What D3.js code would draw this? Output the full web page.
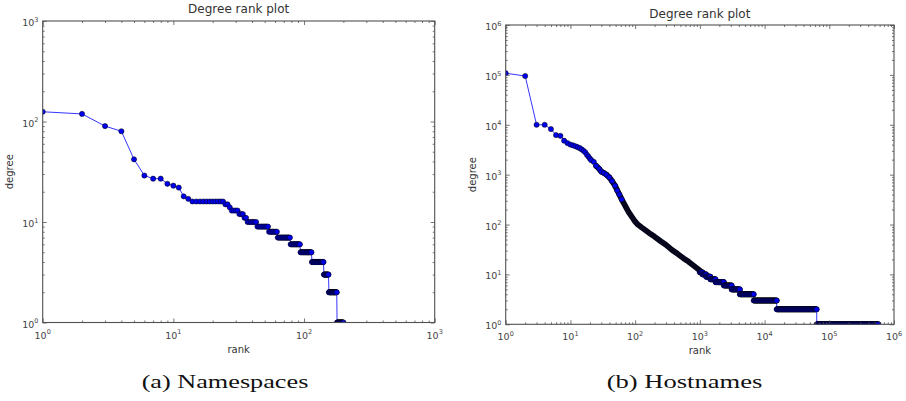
<!DOCTYPE html>
<html><head><meta charset="utf-8">
<script src="https://cdn.jsdelivr.net/npm/d3@7"></script>
<style>body{margin:0;background:#fff}svg{display:block}</style>
</head><body>
<svg id="c" width="906" height="401"></svg>
<script>
// ---------- DATA ----------
// (a) Namespaces: rank-ordered degree sequence, run-length encoded
// (degree level, last rank holding that degree)
const nsDegrees   = [125,119,90,80,42,29,27,24,23,22,18,17,16,15,14,13,12,11,10, 9, 8, 7, 6,  5,  4,  3,  2,  1];
const nsLastRanks = [  1,  2, 3, 4, 5, 6, 8, 9,10,11,12,13,24,26,27,31,34,36,43,53,62,78,93,114,141,154,178,200];

// (b) Hostnames: points read along the steep part of the curve (rank, degree)
const hostCurveRanks   = [1,2,3,4,5,6,7,8,9,10,11,12,13,14,15,16,17,18,19,20,21,23,25,28,30,33,36,40,44,49,53,57,62,70,79,90,100,110,125,150,175,200,250,300,370,450,560,670,800,1000];
const hostCurveDegrees = [108000,95000,10000,10000,8200,6200,6000,4800,4300,4000,3850,3700,3550,3400,3200,3000,2800,2500,2300,2100,1950,1800,1500,1300,1150,1080,1000,880,740,600,480,400,320,240,180,140,115,100,88,74,64,57,46,39,31,26,21,18,15,12];
// (b) Hostnames: low-degree plateaus (degree level, last rank holding that degree)
const hostStepDegrees   = [  11,  10,   9,   8,   7,   6,   5,   4,    3,    2,     1];
const hostStepLastRanks = [1100,1250,1450,1750,2350,3100,4150,6800,15400,64000,574000];

const nsTickExponents   = [0,1,2,3];
const hostTickExponents = [0,1,2,3,4,5,6];
const plotTitle = "Degree rank plot";
const xAxisLabel = "rank";
const yAxisLabel = "degree";
const captions = ["(a) Namespaces", "(b) Hostnames"];

// ---------- DRAWING ----------
const svg = d3.select("#c");
svg.append("rect").attr("width",906).attr("height",401).attr("fill","#fff");

const LINE = "#3535ff", FACE = "#0000ee", EDGE = "#000", R = 2.6;
const FRAME = "#505050", TXT = "#444";

function minorTicks(maxExp){
  const m=[];
  for(let e=0;e<maxExp;e++) for(let k=2;k<=9;k++) m.push(k*Math.pow(10,e));
  return m;
}

function panel(cfg, id){
  const {L,Rt,T,B,exps,xLabY,yLabX,titleY} = cfg;
  const maxV = Math.pow(10, exps[exps.length-1]);
  const x = d3.scaleLog().domain([1,maxV]).range([L,Rt]);
  const y = d3.scaleLog().domain([1,maxV]).range([B,T]);
  const g = svg.append("g");

  g.append("clipPath").attr("id","clip"+id).append("rect")
    .attr("x",L).attr("y",T).attr("width",Rt-L).attr("height",B-T);
  const data = g.append("g").attr("clip-path",`url(#clip${id})`);

  const majors = exps.map(e=>Math.pow(10,e));
  const minors = minorTicks(exps[exps.length-1]);
  const axes = g.append("g");
  const mk = (gen, tr, vals, size) => {
    const a = axes.append("g").attr("transform",tr)
      .call(gen.tickValues(vals).tickSize(-size).tickSizeOuter(0).tickFormat(""));
    a.select(".domain").remove();
    a.selectAll("line").attr("stroke",FRAME).attr("stroke-width",0.8);
  };
  [[majors,4],[minors,2]].forEach(([vals,s])=>{
    mk(d3.axisBottom(x), `translate(0,${B})`, vals, s);
    mk(d3.axisTop(x), `translate(0,${T})`, vals, s);
    mk(d3.axisLeft(y), `translate(${L},0)`, vals, s);
    mk(d3.axisRight(y), `translate(${Rt},0)`, vals, s);
  });
  axes.append("rect").attr("x",L).attr("y",T).attr("width",Rt-L).attr("height",B-T)
    .attr("fill","none").attr("stroke",FRAME).attr("stroke-width",1.1);

  // tick labels 10^n
  const lab = (px,py,anchor,e) => {
    const t = g.append("text").attr("x",px).attr("y",py).attr("text-anchor",anchor)
      .attr("font-family","DejaVu Sans").attr("fill",TXT);
    t.append("tspan").attr("font-size","9.5px").text("10");
    t.append("tspan").attr("font-size","6.5px").attr("dy",-4.3).text(String(e));
  };
  exps.forEach(e=>{
    lab(x(Math.pow(10,e)), B+16, "middle", e);
    lab(L-4.3, y(Math.pow(10,e))+5, "end", e);
  });

  g.append("text").attr("x",(L+Rt)/2).attr("y",titleY).attr("text-anchor","middle")
    .attr("font-family","DejaVu Sans").attr("font-size","12px").attr("fill","#333").text(plotTitle);
  g.append("text").attr("x",(L+Rt)/2).attr("y",xLabY).attr("text-anchor","middle")
    .attr("font-family","DejaVu Sans").attr("font-size","10px").attr("fill","#333").text(xAxisLabel);
  g.append("text").attr("transform",`translate(${yLabX},${(T+B)/2}) rotate(-90)`).attr("text-anchor","middle")
    .attr("font-family","DejaVu Sans").attr("font-size","10px").attr("fill","#333").text(yAxisLabel);

  return {x,y,data};
}

function drawMarkers(layer, pts, x, y){
  layer.append("g").selectAll("circle").data(pts).join("circle")
    .attr("cx",d=>x(d[0])).attr("cy",d=>y(d[1])).attr("r",R)
    .attr("fill",FACE).attr("stroke",EDGE).attr("stroke-width",0.5);
}

// ----- panel (a)
{
  const {x,y,data} = panel({L:42.7,Rt:434.7,T:21,B:322.5,exps:nsTickExponents,xLabY:353,yLabX:12.6,titleY:13.4},"a");
  const pts=[]; let r=1;
  nsDegrees.forEach((d,i)=>{ for(; r<=nsLastRanks[i]; r++) pts.push([r,d]); });
  data.append("path").datum(pts).attr("fill","none").attr("stroke",LINE).attr("stroke-width",1)
    .attr("d",d3.line().x(d=>x(d[0])).y(d=>y(d[1])));
  drawMarkers(data, pts, x, y);
}

// ----- panel (b)
{
  const {x,y,data} = panel({L:505.7,Rt:894,T:25,B:324.3,exps:hostTickExponents,xLabY:354,yLabX:476,titleY:18.3},"b");
  const curve = hostCurveRanks.map((r,i)=>[r,hostCurveDegrees[i]]);
  const linePts = curve.slice();
  const stepMarkers = [];
  let start = hostCurveRanks[hostCurveRanks.length-1]+1;
  hostStepDegrees.forEach((d,i)=>{
    const end = hostStepLastRanks[i];
    linePts.push([start,d],[end,d]);
    // markers at the ranks of this plateau, thinned to distinct pixel positions
    let lastPx=-Infinity;
    for(let r=start;r<=end;r++){
      const px=x(r);
      if(px-lastPx>=0.4 || r===end){ stepMarkers.push([r,d]); lastPx=px; }
    }
    start = end+1;
  });
  data.append("path").datum(linePts).attr("fill","none").attr("stroke",LINE).attr("stroke-width",1)
    .attr("d",d3.line().x(d=>x(d[0])).y(d=>y(d[1])));
  drawMarkers(data, curve.filter(d=>d[0]<25), x, y);
  // dense run of overlapping markers along the curve
  data.append("path").datum(curve.filter(d=>d[0]>=25)).attr("fill","none")
    .attr("stroke","#06061c").attr("stroke-width",2*R+0.5)
    .attr("stroke-linecap","round").attr("stroke-linejoin","round")
    .attr("d",d3.line().x(d=>x(d[0])).y(d=>y(d[1])));
  drawMarkers(data, curve.filter(d=>d[0]>=25 && d[0]<=62), x, y);
  drawMarkers(data, stepMarkers, x, y);
}

// captions
[[225,captions[0],166.7],[684.5,captions[1],155.6]].forEach(([cx,t,w])=>{
  svg.append("text").attr("x",cx).attr("y",387.5).attr("text-anchor","middle")
    .attr("font-family","Liberation Serif").attr("font-size","19px").attr("fill","#111")
    .attr("textLength",w).attr("lengthAdjust","spacingAndGlyphs").text(t);
});
</script>
</body></html>
